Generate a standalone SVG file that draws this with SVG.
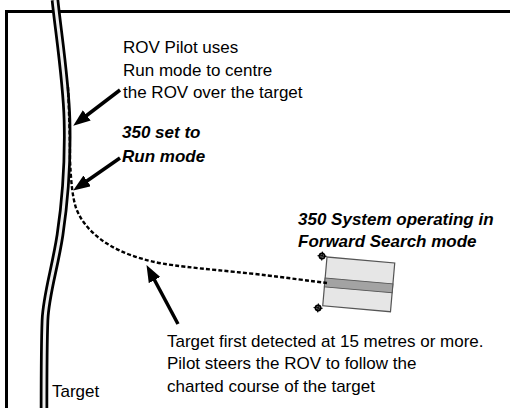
<svg xmlns="http://www.w3.org/2000/svg" width="510" height="408" viewBox="0 0 510 408">
<style>
.t{font-family:"Liberation Sans",Arial,sans-serif;font-size:17px;fill:#000}
.b{font-weight:bold;font-style:italic}
.cable-o{fill:none;stroke:#000;stroke-width:8.5}
.cable-i{fill:none;stroke:#eee;stroke-width:3}
.dot{fill:none;stroke:#000;stroke-width:2.4;stroke-dasharray:4 2.2}
.arr{fill:none;stroke:#000;stroke-width:3.5}
</style>
<defs>
<marker id="ah" markerUnits="userSpaceOnUse" markerWidth="17" markerHeight="13" refX="6" refY="6.5" orient="auto">
<path d="M0,0 L17,6.5 L0,13 z" fill="#000"/>
</marker>
</defs>
<rect x="0" y="0" width="510" height="408" fill="#fff"/>
<rect x="6.5" y="11.5" width="600" height="500" fill="none" stroke="#000" stroke-width="3"/>
<g id="target">
<path class="cable-o" d="M55,0 C58,30 66,80 67,120 C68,160 66,195 60,235 C55,268 46,295 45,320 C44,345 44,380 44,410"/>
<path class="cable-i" d="M55,0 C58,30 66,80 67,120 C68,160 66,195 60,235 C55,268 46,295 45,320 C44,345 44,380 44,410"/>
<text class="t" x="52" y="397">Target</text>
</g>
<g id="sonar" transform="translate(327,257) rotate(5)">
<rect x="0" y="0" width="68" height="49" fill="#e6e6e6" stroke="#555" stroke-width="1.2"/>
<rect x="0" y="21" width="68" height="9" fill="#a3a3a3" stroke="#555" stroke-width="1"/>
<g fill="#000" stroke="#000" stroke-width="1.2">
<circle cx="-5" cy="-0.5" r="2.6" fill="#fff" stroke-width="1.8"/>
<circle cx="-4.5" cy="51.5" r="2.6" fill="#fff" stroke-width="1.8"/>
<path d="M-9.5,-0.5 H-0.5 M-5,-5 V4"/>
<path d="M-9,51.5 H0 M-4.5,47 V56"/>
</g>
</g>
<g id="connectors">
<path class="dot" d="M68,87 C69,110 70,140 70,160 C71,180 72,195 76,208 C85,232 110,250 143,259 C165,266 200,268 255,274 C290,278 310,281 327,283"/>
<line class="arr" x1="120" y1="90" x2="82" y2="119" marker-end="url(#ah)"/>
<line class="arr" x1="120" y1="158" x2="82.2" y2="184.3" marker-end="url(#ah)"/>
<line class="arr" x1="178" y1="324" x2="151.7" y2="274.8" marker-end="url(#ah)"/>
</g>
<g id="label-pilot">
<text class="t" x="123" y="53">ROV Pilot uses</text>
<text class="t" x="123" y="76">Run mode to centre</text>
<text class="t" x="123" y="98">the ROV over the target</text>
</g>
<g id="label-run">
<text class="t b" x="122" y="138">350 set to</text>
<text class="t b" x="122" y="162">Run mode</text>
</g>
<g id="label-forward">
<text class="t b" x="298" y="225">350 System operating in</text>
<text class="t b" x="298" y="247">Forward Search mode</text>
</g>
<g id="label-detect">
<text class="t" x="167" y="347">Target first detected at 15 metres or more.</text>
<text class="t" x="167" y="369">Pilot steers the ROV to follow the</text>
<text class="t" x="167" y="392">charted course of the target</text>
</g>
</svg>
